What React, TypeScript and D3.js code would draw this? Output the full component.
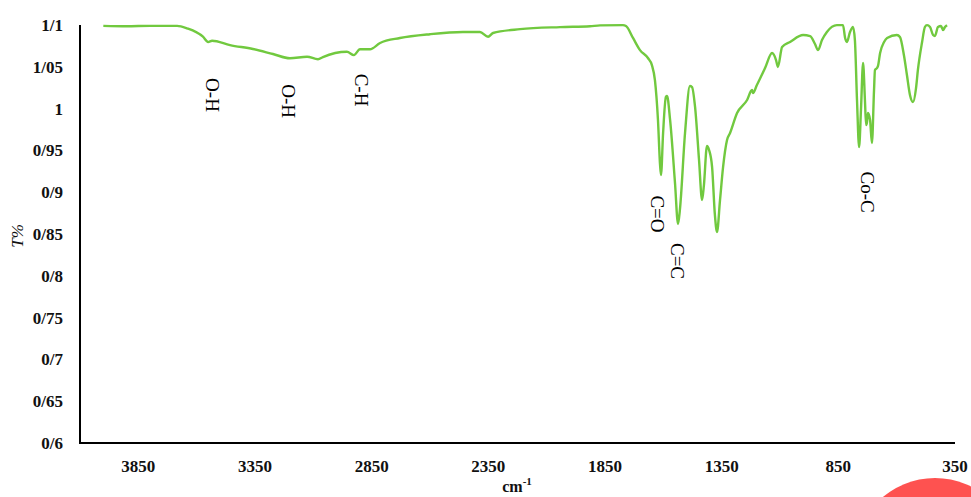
import React from "react";
import * as d3 from "d3";

const wavenumbers = [4000, 3900, 3800, 3684, 3641, 3573, 3551, 3534, 3457, 3359, 3273, 3200, 3127, 3080, 3059, 2956, 2926, 2900, 2857, 2814, 2729, 2600, 2459, 2386, 2351, 2330, 2214, 2043, 1914, 1871, 1773, 1760, 1730, 1700, 1666, 1649, 1636, 1623, 1614, 1610, 1601, 1589, 1584, 1571, 1550, 1537, 1529, 1507, 1486, 1477, 1464, 1447, 1434, 1426, 1413, 1404, 1391, 1379, 1370, 1357, 1344, 1327, 1314, 1284, 1241, 1220, 1216, 1199, 1164, 1134, 1117, 1109, 1091, 1057, 1001, 971, 950, 937, 920, 899, 856, 830, 821, 813, 800, 787, 779, 770, 761, 753, 744, 736, 731, 727, 723, 714, 706, 697, 693, 684, 680, 671, 654, 641, 599, 586, 569, 556, 543, 530, 517, 509, 491, 479, 470, 457, 444, 436, 423, 410, 401, 393, 384];
const transmittance = [1.099, 1.0985, 1.099, 1.099, 1.096, 1.086, 1.0797, 1.0812, 1.076, 1.0713, 1.0653, 1.0602, 1.0621, 1.059, 1.0617, 1.068, 1.064, 1.071, 1.071, 1.0785, 1.0844, 1.089, 1.0916, 1.0916, 1.086, 1.0904, 1.095, 1.0975, 1.0985, 1.0995, 1.0998, 1.0988, 1.0845, 1.070, 1.0605, 1.052, 1.034, 0.9864, 0.9325, 0.9206, 0.9708, 1.0139, 1.015, 0.9864, 0.911, 0.862, 0.879, 0.9708, 1.027, 1.0258, 1.002, 0.9385, 0.8907, 0.9086, 0.9553, 0.9505, 0.930, 0.8727, 0.8524, 0.8907, 0.930, 0.9625, 0.9708, 0.9947, 1.0103, 1.0222, 1.0187, 1.0282, 1.0486, 1.0665, 1.0581, 1.0498, 1.0737, 1.0797, 1.088, 1.0868, 1.0773, 1.070, 1.082, 1.0916, 1.0998, 1.0998, 1.0845, 1.0797, 1.0916, 1.0976, 1.082, 1.0103, 0.954, 0.9983, 1.0545, 1.0103, 0.9804, 0.984, 0.9947, 0.9864, 0.9589, 1.0222, 1.0462, 1.0486, 1.051, 1.0665, 1.0797, 1.0845, 1.088, 1.0856, 1.0641, 1.0402, 1.0163, 1.0079, 1.0246, 1.0462, 1.0797, 1.0976, 1.0998, 1.0976, 1.088, 1.0868, 1.0976, 1.0988, 1.094, 1.0976, 1.0998];

const yTicks = [0.6, 0.65, 0.7, 0.75, 0.8, 0.85, 0.9, 0.95, 1.0, 1.05, 1.1];
const yTickLabels = ["0/6", "0/65", "0/7", "0/75", "0/8", "0/85", "0/9", "0/95", "1", "1/05", "1/1"];
const xTicks = [3850, 3350, 2850, 2350, 1850, 1350, 850, 350];

const annotations = ["O-H", "O-H", "C-H", "C=O", "C=C", "Co-C"];
const annotationX = [3530, 3204, 2891, 1623, 1537, 723];
const annotationY = [1.0163, 1.009, 1.0222, 0.874, 0.8177, 0.9];

const W = 971;
const H = 497;
const serif = "'Liberation Serif', 'Times New Roman', serif";

export default function App() {
  const x = d3.scaleLinear().domain([4100, 350]).range([80, 955]);
  const y = d3.scaleLinear().domain([0.6, 1.1]).range([443, 25]);

  const pts: [number, number][] = wavenumbers.map((w, i) => [x(w), y(transmittance[i])]);
  const path = d3.line().curve(d3.curveMonotoneX)(pts) || "";

  return (
    <svg
      width={W}
      height={H}
      style={{ position: "fixed", left: 0, top: 0, background: "#fff" }}
    >
      <rect x={0} y={0} width={W} height={H} fill="#fff" />
      <line x1={80} y1={y(1.1)} x2={80} y2={y(0.6)} stroke="#000" strokeWidth={2} />
      <line x1={79} y1={y(0.6)} x2={x(350)} y2={y(0.6)} stroke="#000" strokeWidth={2.2} />

      {yTicks.map((t, i) => (
        <text
          key={"y" + i}
          x={63}
          y={y(t)}
          dy="0.35em"
          textAnchor="end"
          fontFamily={serif}
          fontWeight="bold"
          fontSize={17}
          fill="#111"
        >
          {yTickLabels[i]}
        </text>
      ))}

      {xTicks.map((t, i) => (
        <text
          key={"x" + i}
          x={x(t)}
          y={472}
          textAnchor="middle"
          fontFamily={serif}
          fontWeight="bold"
          fontSize={17}
          fill="#111"
        >
          {t}
        </text>
      ))}

      <text x={517} y={492} textAnchor="middle" fontFamily={serif} fontWeight="bold" fontSize={16} fill="#111">
        cm<tspan dy={-7} fontSize={11}>-1</tspan>
      </text>

      <text
        transform={`translate(23,236) rotate(-90)`}
        textAnchor="middle"
        fontFamily={serif}
        fontStyle="italic"
        fontSize={17}
        fill="#111"
      >
        T%
      </text>

      <path d={path} fill="none" stroke="#71c93f" strokeWidth={2.4} strokeLinejoin="round" />

      {annotations.map((a, i) => (
        <text
          key={"a" + i}
          transform={`translate(${x(annotationX[i])},${y(annotationY[i])}) rotate(90)`}
          textAnchor="middle"
          dy="0.35em"
          fontFamily={serif}
          fontSize={19}
          fill="#000"
        >
          {a}
        </text>
      ))}

      <circle cx={935} cy={559} r={81} fill="#fe5250" />
    </svg>
  );
}
